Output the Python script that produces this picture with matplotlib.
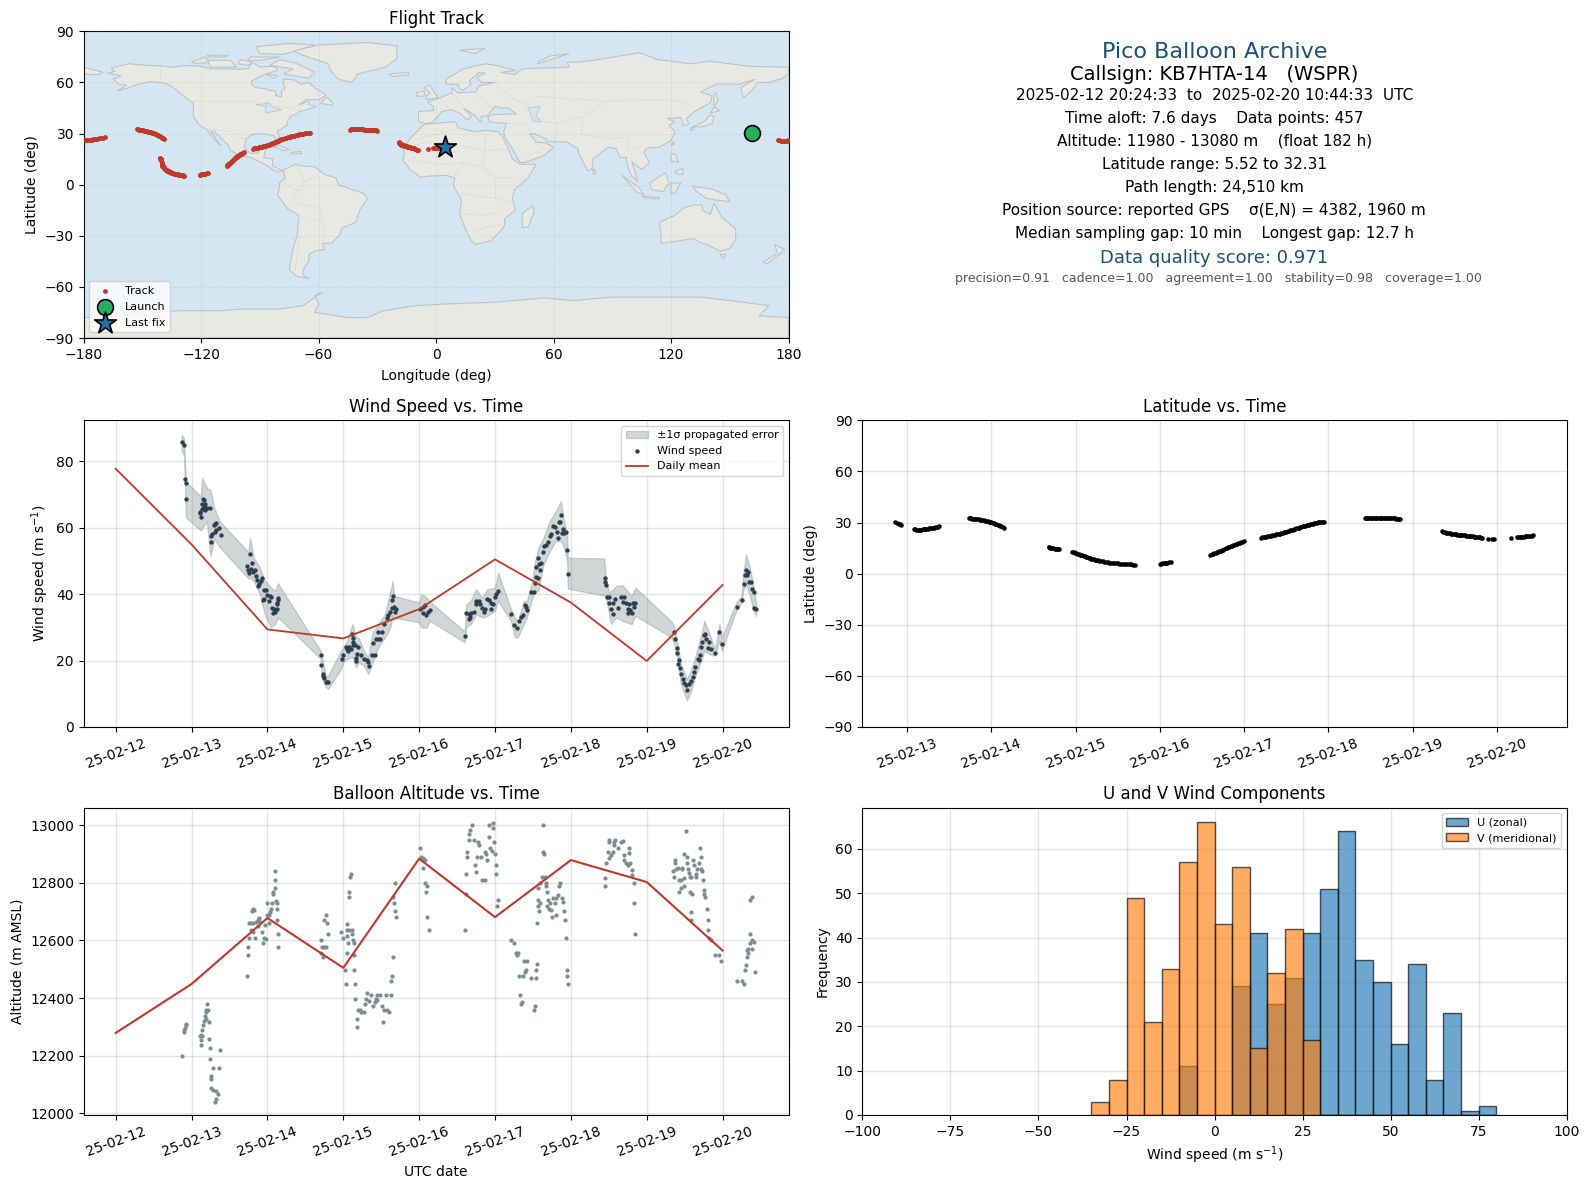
from datetime import datetime

import matplotlib
matplotlib.use("Agg")
import matplotlib.dates as mdates
import matplotlib.pyplot as plt

# --- values ---
# days since 2025-02-12 00:00 UTC
mean_day = [0, 1, 2, 3, 4, 5, 6, 7, 8]
mean_wind = [77.8, 55.0, 29.4, 26.7, 35.5, 50.5, 37.5, 19.9, 42.8]
mean_alt = [12279, 12449, 12678, 12505, 12884, 12681, 12879, 12803, 12565]

wind_day = [
    .868, .895, .908, .925, .921, 1.145, 1.167, 1.136, 1.18, 1.158, 1.202, 1.237, 1.18, 1.136, 1.114, 1.105, 1.118,
    1.311, 1.29, 1.325, 1.355, 1.325, 1.303, 1.382, 1.272, 1.254, 1.25,
    1.772, 1.737, 1.798, 1.75, 1.789, 1.838, 1.759, 1.816, 1.851, 1.868, 1.93, 1.917, 1.895, 1.882, 1.956, 1.982,
    1.991, 2.035, 2.053, 1.956, 1.947, 2.026, 2.145, 2.136, 2.123, 2.057, 2.088, 2.123, 2.1, 2.079, 2.13,
    2.702, 2.711, 2.728, 2.737, 2.75, 2.767, 2.789, 2.803,
    2.978, 3.0, 3.03, 3.053, 3.079, 3.066, 3.096, 3.123, 3.154, 3.132, 3.123, 3.118,
    3.197, 3.175, 3.228, 3.167, 3.167, 3.272, 3.307, 3.333, 3.329,
    3.373, 3.412, 3.386, 3.43, 3.46, 3.482, 3.46, 3.504, 3.535, 3.57, 3.588, 3.614, 3.636, 3.667, 3.693, 3.68,
    3.636, 3.649, 4.017, 4.05, 4.075, 4.05, 4.096, 4.118, 4.14,
    4.61, 4.623, 4.654, 4.684, 4.658, 4.724, 4.675, 4.754, 4.785, 4.798, 4.754, 4.829, 4.864, 4.855, 4.895, 4.917,
    4.952, 4.974, 4.943, 5.0, 5.018, 5.04,
    5.21, 5.25, 5.289, 5.316, 5.346, 5.368, 5.39, 5.412, 5.425, 5.474, 5.509,
    5.535, 5.57, 5.526, 5.544, 5.561, 5.579, 5.61, 5.596, 5.632, 5.64, 5.675, 5.697, 5.719, 5.74, 5.768, 5.794,
    5.812, 5.842, 5.86, 5.873, 5.895, 5.912, 5.886, 5.938, 5.829, 5.948, 5.96,
    6.45, 6.45, 6.46, 6.478, 6.5, 6.509, 6.553, 6.53, 6.553, 6.588, 6.618, 6.662, 6.706, 6.684, 6.728, 6.772,
    6.816, 6.846, 6.829, 6.75, 6.785, 6.75, 6.803,
    7.355, 7.371, 7.395, 7.404, 7.421, 7.417, 7.44, 7.452, 7.474, 7.496, 7.526, 7.518, 7.553, 7.584, 7.605, 7.627,
    7.64, 7.671, 7.702, 7.689, 7.715, 7.732, 7.75, 7.765, 7.785, 7.82, 7.807, 7.846, 7.904, 7.956, 7.987,
    8.184, 8.25, 8.276, 8.29, 8.307, 8.33, 8.316, 8.342, 8.37, 8.39, 8.413, 8.417, 8.434,
]
wind_speed = [
    85.8, 85.0, 74.8, 73.6, 68.8, 68.8, 68.3, 67.3, 67.3, 66.3, 66.0, 66.1, 65.5, 65.6, 64.8, 64.5, 63.2,
    61.2, 60.9, 61.5, 60.0, 59.4, 58.7, 57.9, 58.2, 57.4, 55.8,
    52.2, 48.6, 49.4, 47.4, 47.7, 47.2, 46.5, 46.7, 45.5, 44.4, 44.9, 44.0, 43.2, 42.5, 41.4, 41.4,
    39.7, 39.6, 39.2, 38.7, 38.2, 38.1, 38.9, 38.2, 37.4, 35.9, 35.7, 35.7, 34.7, 34.2, 37.2,
    21.6, 18.8, 16.1, 15.4, 14.8, 13.6, 13.5, 13.6,
    20.6, 21.8, 24.1, 23.6, 24.1, 22.9, 23.6, 24.6, 24.6, 25.6, 26.8, 27.9,
    24.1, 22.1, 21.8, 20.9, 19.9, 20.6, 20.1, 18.3, 19.6,
    21.8, 21.8, 25.4, 26.4, 26.4, 26.4, 28.6, 28.6, 30.9, 32.7, 33.7, 34.7, 36.0, 36.2, 35.4, 34.5,
    38.4, 39.6, 35.7, 36.2, 36.7, 34.2, 33.7, 34.7, 35.2,
    27.4, 34.4, 34.0, 34.2, 32.4, 34.6, 33.2, 38.0, 38.0, 37.2, 37.0, 35.9, 35.7, 34.7, 38.7, 38.2,
    37.4, 37.0, 35.5, 39.2, 40.2, 41.0,
    33.9, 30.7, 29.7, 32.0, 33.0, 33.7, 36.7, 36.2, 35.2, 40.6, 40.7,
    45.2, 44.9, 43.4, 48.2, 51.0, 49.2, 49.4, 47.2, 52.7, 54.4, 54.7, 55.7, 57.4, 58.0, 60.7, 60.2,
    58.7, 61.7, 61.7, 64.0, 59.7, 58.4, 58.4, 58.7, 57.0, 53.4, 46.2,
    44.9, 43.7, 42.7, 39.3, 39.2, 37.4, 37.4, 35.4, 34.0, 38.5, 36.0, 39.3, 39.3, 37.7, 37.4, 37.2,
    37.4, 37.5, 36.2, 35.7, 35.2, 34.4, 34.2,
    28.6, 26.6, 23.9, 22.4, 20.1, 19.1, 17.9, 16.1, 14.6, 13.3, 11.1, 12.6, 13.1, 13.9, 15.1, 16.6,
    18.1, 20.6, 21.6, 20.3, 24.1, 25.6, 27.6, 27.9, 26.6, 25.6, 23.9, 23.4, 22.4, 28.6, 25.1,
    36.2, 38.4, 43.2, 45.7, 47.2, 46.7, 45.7, 43.6, 43.6, 41.7, 40.7, 36.0, 35.7,
]

# propagated error envelope
band_day = [
    .87, .90, .925, 1.12, 1.14, 1.2, 1.25, 1.3, 1.37, 1.75, 1.77, 1.82, 1.9, 1.97, 2.05, 2.1, 2.14,
    2.7, 2.72, 2.77, 2.8, 2.97, 3.0, 3.05, 3.12, 3.17, 3.2, 3.27, 3.33, 3.38, 3.46, 3.55, 3.62, 3.65, 3.67,
    4.0, 4.03, 4.1, 4.14, 4.6, 4.62, 4.68, 4.75, 4.83, 4.9, 5.0, 5.04,
    5.21, 5.26, 5.3, 5.38, 5.42, 5.48, 5.53, 5.57, 5.64, 5.72, 5.8, 5.87, 5.91, 5.95, 5.96,
    6.44, 6.46, 6.5, 6.53, 6.6, 6.68, 6.8, 6.85,
    7.33, 7.36, 7.4, 7.45, 7.53, 7.58, 7.65, 7.72, 7.76, 7.82, 7.9, 7.96, 7.99,
    8.18, 8.25, 8.27, 8.31, 8.36, 8.41, 8.44,
]
band_low = [
    83, 82, 63.2, 59.2, 60, 62, 51.5, 56.7, 54.2, 44.7, 45, 44, 40, 33.5, 30, 31, 33,
    20.6, 14.5, 12, 11.5, 17.5, 19.5, 20.5, 21, 18, 19.5, 18.5, 16, 19, 24, 27, 30, 33.6, 33,
    31.5, 30, 30, 32, 25.5, 30, 31, 34, 33, 33.5, 35, 38,
    32, 27, 27, 31, 33, 38, 41, 41, 49, 53, 56, 56, 54, 50, 41.7,
    39.6, 39, 34.5, 31, 33, 32, 31, 33.5,
    27, 25, 21, 13, 8, 10.5, 16, 20, 23, 22, 21.5, 26, 23,
    35, 37.5, 41, 43, 39.5, 35, 33.5,
]
band_high = [
    88, 87, 74, 69.5, 75, 72, 71.3, 66, 62, 52.7, 57, 51, 48, 44, 42, 41, 43.3,
    23, 21, 15.5, 15.5, 23, 24, 26, 31, 27, 27, 23, 21, 28, 31, 34, 41, 44, 39.5,
    37.5, 40, 39, 37.8, 28.8, 37, 38, 41.5, 39, 41.5, 42, 46.5,
    35.5, 33, 32, 38, 38, 43, 50, 54, 57, 62, 65, 68, 62, 58, 51,
    50.8, 45, 40.5, 41, 42.5, 42.7, 39.5, 42,
    31.7, 30, 26, 19, 14.5, 17, 22, 28, 32, 28.5, 23.5, 31, 27,
    37.5, 39.5, 46, 52, 48, 42, 37.5,
]

alt_day = [
    .868, .90, .912, .925, .905, .93, 1.197, 1.193, 1.21, 1.193, 1.175, 1.193, 1.167, 1.224, 1.149, 1.14, 1.123, 1.114, 1.136,
    1.123, 1.118, 1.224, 1.237, 1.38, 1.237, 1.276, 1.368, 1.254, 1.25, 1.254, 1.289, 1.316, 1.342, 1.325, 1.303,
    1.737, 1.75, 1.75, 1.763, 1.842, 1.78, 1.807, 1.763, 1.79, 1.816, 1.794, 1.816, 1.829, 1.851, 1.877, 1.895, 1.904, 1.882,
    1.925, 1.956, 1.978, 1.947, 1.969, 2.0, 2.0, 2.057, 2.05, 2.035, 2.022, 2.026, 2.13, 2.118, 2.123, 2.07, 2.1, 2.079, 2.096, 2.105,
    2.13, 2.145, 2.145,
    2.711, 2.767, 2.75, 2.789, 2.803, 2.715, 2.746, 2.767, 2.702, 2.728, 2.974, 3.0, 3.044, 3.079, 3.11, 3.048, 3.11, 3.066,
    3.123, 3.136, 3.048, 3.14, 3.05, 3.026, 3.145, 3.04, 3.158, 3.158, 3.079, 3.079, 3.092, 3.105,
    3.175, 3.175, 3.197, 3.22, 3.24, 3.276, 3.289, 3.316, 3.298, 3.333, 3.368, 3.395, 3.417, 3.439, 3.43, 3.45, 3.48, 3.504,
    3.535, 3.57, 3.605, 3.518, 3.56, 3.623, 3.63, 3.645, 3.658, 3.697, 3.684, 3.671, 3.658, 3.684,
    4.013, 4.03, 4.05, 4.075, 4.05, 4.083, 4.105, 4.096, 4.105, 4.13,
    4.605, 4.614, 4.623, 4.636, 4.632, 4.662, 4.675, 4.693, 4.658, 4.724, 4.776, 4.789, 4.74, 4.75, 4.768, 4.82, 4.833, 4.864,
    4.868, 4.886, 4.9, 4.92, 4.973, 4.973, 4.917, 4.987, 4.93, 4.965, 5.0, 5.013, 5.013, 5.04, 5.026,
    5.21, 5.25, 5.28, 5.30, 5.294, 5.386, 5.42, 5.412, 5.395, 5.368, 5.316, 5.474, 5.544, 5.544, 5.553, 5.329, 5.355, 5.342, 5.526, 5.513,
    5.632, 5.632, 5.649, 5.618, 5.658, 5.671, 5.671, 5.588, 5.566, 5.684, 5.57, 5.592, 5.57, 5.579, 5.553, 5.697, 5.689, 5.71,
    5.74, 5.75, 5.802, 5.785, 5.829, 5.81, 5.882, 5.895, 5.86, 5.842, 5.908, 5.92, 5.935, 5.948, 5.948, 5.96, 5.763, 5.728,
    6.45, 6.45, 6.465, 6.487, 6.5, 6.53, 6.553, 6.5, 6.509, 6.566, 6.575, 6.588, 6.618, 6.662, 6.684, 6.706, 6.706, 6.728, 6.75,
    6.763, 6.77, 6.785, 6.803, 6.803, 6.83, 6.83, 6.843,
    7.355, 7.377, 7.37, 7.35, 7.386, 7.41, 7.421, 7.452, 7.43, 7.447, 7.46, 7.47, 7.487, 7.487, 7.513, 7.496, 7.526, 7.526, 7.54,
    7.553, 7.566, 7.588, 7.575, 7.597, 7.61, 7.623, 7.579, 7.584, 7.645, 7.654, 7.667, 7.689, 7.702, 7.719, 7.715, 7.732, 7.74,
    7.76, 7.76, 7.772, 7.789, 7.803, 7.807, 7.825, 7.846, 7.9, 7.95, 7.985,
    8.184, 8.25, 8.276, 8.29, 8.307, 8.316, 8.325, 8.34, 8.34, 8.358, 8.358, 8.393, 8.393, 8.416, 8.43, 8.368, 8.382,
]
alt_m = [
    12200, 12290, 12296, 12305, 12282, 12310, 12381, 12358, 12358, 12350, 12338, 12329, 12319, 12317, 12308, 12290, 12271, 12268, 12270,
    12253, 12238, 12259, 12228, 12221, 12190, 12158, 12158, 12129, 12120, 12088, 12080, 12077, 12068, 12050, 12039,
    12478, 12548, 12579, 12610, 12610, 12638, 12630, 12659, 12659, 12659, 12703, 12708, 12705, 12665, 12671, 12679, 12665, 12650,
    12628, 12607, 12605, 12590, 12653, 12690, 12729, 12729, 12711, 12700, 12688, 12659, 12708, 12737, 12729, 12769, 12781, 12761, 12809, 12840,
    12670, 12621, 12579,
    12600, 12690, 12670, 12659, 12621, 12579, 12579, 12579, 12558, 12541, 12628, 12610, 12638, 12638, 12638, 12614, 12621, 12590,
    12600, 12590, 12558, 12549, 12657, 12499, 12499, 12450, 12450, 12398, 12750, 12770, 12819, 12830,
    12329, 12301, 12358, 12358, 12350, 12350, 12381, 12419, 12398, 12389, 12409, 12373, 12387, 12410, 12396, 12392, 12409, 12373,
    12360, 12360, 12350, 12318, 12409, 12409, 12461, 12478, 12541, 12680, 12701, 12729, 12752, 12798,
    12920, 12890, 12885, 12879, 12850, 12798, 12790, 12770, 12680, 12638,
    12638, 12760, 12830, 12908, 12891, 12969, 12984, 13000, 12948, 12948, 12941, 12932, 12861, 12837, 12889, 12889, 12809, 12809,
    12908, 12899, 12879, 13000, 13009, 12990, 12958, 12941, 12920, 12911, 12899, 12861, 12830, 12739, 12718,
    12600, 12590, 12558, 12558, 12548, 12530, 12530, 12499, 12491, 12478, 12478, 12468, 12468, 12499, 12520, 12409, 12387, 12380, 12371, 12360,
    13000, 12908, 12899, 12819, 12819, 12798, 12789, 12798, 12782, 12770, 12739, 12729, 12718, 12701, 12659, 12739, 12718, 12711,
    12705, 12680, 12690, 12729, 12758, 12746, 12746, 12734, 12798, 12790, 12701, 12670, 12610, 12499, 12478, 12450, 12746, 12729,
    12788, 12816, 12868, 12908, 12885, 12897, 12908, 12948, 12941, 12941, 12932, 12948, 12920, 12943, 12946, 12897, 12879, 12868, 12862,
    12903, 12920, 12868, 12845, 12827, 12798, 12729, 12621,
    12819, 12868, 12878, 12841, 12848, 12852, 12809, 12809, 12770, 12781, 12848, 12850, 12788, 12818, 12979, 12899, 12889, 12868, 12848,
    12836, 12819, 12819, 12769, 12761, 12878, 12862, 12700, 12670, 12819, 12830, 12848, 12868, 12920, 12889, 12848, 12841, 12809,
    12775, 12763, 12750, 12708, 12670, 12638, 12610, 12600, 12548, 12548, 12530,
    12461, 12461, 12450, 12499, 12514, 12541, 12566, 12558, 12572, 12590, 12621, 12569, 12601, 12595, 12489, 12739, 12750,
]

track_day = [
    .86, .88, .90, .92, .93,
    1.08, 1.095, 1.11, 1.125, 1.14, 1.155, 1.17, 1.185, 1.20, 1.215, 1.23, 1.245, 1.26, 1.275, 1.29, 1.305, 1.32, 1.335, 1.35, 1.365, 1.38,
    1.73, 1.745, 1.76, 1.775, 1.79, 1.805, 1.82, 1.835, 1.85, 1.865, 1.88, 1.895, 1.91, 1.925, 1.94, 1.955, 1.97, 1.985, 2.0, 2.015, 2.03, 2.045, 2.06, 2.075, 2.09, 2.105, 2.12, 2.135, 2.15,
    2.68, 2.69, 2.7, 2.71, 2.72, 2.735, 2.75, 2.765, 2.78, 2.79, 2.8,
    2.96, 2.975, 2.99, 3.005, 3.02, 3.035, 3.05, 3.065, 3.08, 3.095, 3.11, 3.125, 3.14, 3.155, 3.17, 3.185, 3.2, 3.215, 3.23, 3.245, 3.26, 3.28, 3.3, 3.32, 3.34, 3.36, 3.38, 3.4, 3.42, 3.44, 3.46, 3.48, 3.5, 3.52, 3.54, 3.56, 3.58, 3.6, 3.62, 3.64, 3.66, 3.68, 3.7,
    4.0, 4.015, 4.03, 4.045, 4.06, 4.075, 4.09, 4.11, 4.13,
    4.6, 4.615, 4.63, 4.645, 4.66, 4.675, 4.69, 4.705, 4.72, 4.735, 4.75, 4.765, 4.78, 4.795, 4.81, 4.825, 4.84, 4.855, 4.87, 4.885, 4.9, 4.915, 4.93, 4.945, 4.96, 4.98, 5.0,
    5.2, 5.215, 5.23, 5.245, 5.26, 5.275, 5.29, 5.305, 5.32, 5.335, 5.35, 5.365, 5.38, 5.395, 5.41, 5.425, 5.44, 5.455, 5.47, 5.485, 5.5, 5.515, 5.53, 5.545, 5.56, 5.575, 5.59, 5.605, 5.62, 5.635, 5.65, 5.665, 5.68, 5.695, 5.71, 5.725, 5.74, 5.755, 5.77, 5.785, 5.8, 5.815, 5.83, 5.845, 5.86, 5.875, 5.89, 5.905, 5.92, 5.935, 5.95,
    6.43, 6.445, 6.46, 6.475, 6.49, 6.505, 6.52, 6.535, 6.55, 6.565, 6.58, 6.595, 6.61, 6.625, 6.64, 6.655, 6.67, 6.685, 6.7, 6.715, 6.73, 6.745, 6.76, 6.775, 6.79, 6.805, 6.82, 6.835, 6.85,
    7.35, 7.365, 7.38, 7.395, 7.41, 7.425, 7.44, 7.455, 7.47, 7.485, 7.5, 7.515, 7.53, 7.545, 7.56, 7.575, 7.59, 7.605, 7.62, 7.635, 7.65, 7.665, 7.68, 7.695, 7.71, 7.725, 7.74, 7.755, 7.77, 7.785, 7.8, 7.81, 7.82, 7.89, 7.94, 7.97,
    8.17, 8.24, 8.255, 8.27, 8.285, 8.3, 8.315, 8.33, 8.345, 8.36, 8.375, 8.39, 8.41, 8.43,
]
track_lon = [
    161.2, 161.6, 162, 162.4, 162.6,
    174.5, 175.2, 176, 176.8, 177.5, 178.2, 179, 179.8, -179.5, -178.8, -178, -177, -176, -175.2, -174.5, -173.8, -173, -172, -171, -170, -169,
    -153, -152.5, -152, -151.5, -151, -150.5, -150, -149.5, -149, -148.5, -148, -147.5, -147, -146.5, -146, -145.5, -145, -144.5, -144, -143.5, -143, -142.5, -142, -141.5, -141, -140.5, -140, -139.5, -139,
    -140.8, -140.8, -140.8, -140.75, -140.7, -140.65, -140.6, -140.6, -140.6, -140.55, -140.5,
    -140.2, -140.2, -140.2, -140.1, -140, -139.9, -139.8, -139.6, -139.5, -139.3, -139.2, -139, -138.8, -138.5, -138.3, -138, -137.8, -137.5, -137.2, -136.9, -136.6, -136.3, -136, -135.6, -135.2, -134.8, -134.4, -134, -133.6, -133.2, -132.8, -132.4, -132, -131.6, -131.2, -130.8, -130.5, -130.2, -130, -129.8, -129.5, -129.2, -129,
    -120.8, -120.4, -120, -119.5, -119, -118.5, -118, -117.2, -116.5,
    -107, -106.7, -106.4, -106.1, -105.8, -105.5, -105.2, -104.9, -104.6, -104.3, -104, -103.7, -103.4, -103.1, -102.8, -102.5, -102.2, -101.9, -101.5, -101.2, -100.8, -100.4, -100, -99.6, -99.2, -98.6, -98,
    -93.6, -93, -92.4, -91.8, -91.2, -90.6, -90, -89.5, -89, -88.5, -88, -87.5, -87, -86.5, -86, -85.5, -85, -84.5, -84, -83.5, -83, -82.5, -82, -81.5, -81, -80.5, -80, -79.5, -79, -78.5, -78, -77.2, -76.5, -75.8, -75, -74.5, -74, -73.2, -72.5, -71.8, -71, -70.5, -70, -69.2, -68.5, -67.8, -67, -66.2, -65.5, -65, -64.5,
    -44, -43.5, -43, -42.5, -42, -41.5, -41, -40.5, -40, -39.5, -39, -38.5, -38, -37.5, -37, -36.5, -36, -35.5, -35, -34.5, -34, -33.5, -33, -32.5, -32, -31.5, -31, -30.5, -30,
    -19, -18.8, -18.6, -18.4, -18.2, -17.9, -17.7, -17.4, -17.2, -16.9, -16.7, -16.4, -16.2, -15.9, -15.7, -15.4, -15.2, -14.9, -14.7, -14.4, -14.2, -13.9, -13.7, -13.4, -13.1, -12.8, -12.5, -12.2, -11.9, -11.6, -11.3, -11, -10.8, -10, -9.7, -9.4,
    -4, -1.5, -1, -.5, 0, .5, 1, 1.5, 2, 2.5, 3, 3.5, 4.2, 4.8,
]
track_lat = [
    30.1, 29.8, 29.4, 28.9, 28.6,
    26.0, 25.95, 25.9, 25.85, 25.8, 25.85, 25.9, 26.0, 26.1, 26.15, 26.2, 26.35, 26.5, 26.65, 26.8, 26.9, 27.0, 27.2, 27.4, 27.6, 27.8,
    32.5, 32.45, 32.4, 32.35, 32.3, 32.2, 32.1, 31.95, 31.8, 31.65, 31.5, 31.35, 31.2, 31.1, 31.0, 30.8, 30.6, 30.4, 30.2, 29.9, 29.6, 29.35, 29.1, 28.8, 28.5, 28.1, 27.7, 27.3, 26.9,
    15.8, 15.55, 15.3, 15.15, 15.0, 14.85, 14.7, 14.6, 14.5, 14.4, 14.3,
    12.7, 12.45, 12.2, 11.95, 11.7, 11.45, 11.2, 10.95, 10.7, 10.45, 10.2, 9.9, 9.6, 9.35, 9.1, 8.85, 8.6, 8.4, 8.2, 8.0, 7.8, 7.6, 7.4, 7.2, 7.0, 6.8, 6.6, 6.45, 6.3, 6.2, 6.1, 6.05, 6.0, 5.95, 5.9, 5.85, 5.8, 5.75, 5.7, 5.6, 5.5, 5.35, 5.2,
    5.8, 5.9, 6.0, 6.1, 6.2, 6.35, 6.5, 6.7, 6.9,
    11.0, 11.3, 11.6, 11.9, 12.2, 12.5, 12.8, 13.15, 13.5, 13.8, 14.1, 14.45, 14.8, 15.1, 15.4, 15.7, 16.0, 16.35, 16.7, 17.0, 17.3, 17.65, 18.0, 18.25, 18.5, 18.85, 19.2,
    21.2, 21.3, 21.4, 21.55, 21.7, 21.85, 22.0, 22.15, 22.3, 22.5, 22.7, 22.85, 23.0, 23.15, 23.3, 23.55, 23.8, 24.0, 24.2, 24.45, 24.7, 24.95, 25.2, 25.4, 25.6, 25.85, 26.1, 26.35, 26.6, 26.8, 27.0, 27.25, 27.5, 27.75, 28.0, 28.2, 28.4, 28.6, 28.8, 29.0, 29.2, 29.4, 29.6, 29.75, 29.9, 30.05, 30.2, 30.3, 30.4, 30.5, 30.6,
    32.4, 32.45, 32.5, 32.5, 32.5, 32.5, 32.5, 32.5, 32.5, 32.5, 32.5, 32.45, 32.5, 32.45, 32.4, 32.4, 32.4, 32.4, 32.4, 32.4, 32.4, 32.4, 32.4, 32.4, 32.4, 32.35, 32.3, 32.1, 31.8,
    25.0, 24.6, 24.3, 24.1, 23.9, 23.75, 23.6, 23.5, 23.4, 23.3, 23.2, 23.05, 22.9, 22.8, 22.7, 22.6, 22.5, 22.45, 22.4, 22.3, 22.2, 22.15, 22.1, 22.0, 21.9, 21.8, 21.7, 21.6, 21.5, 21.4, 21.3, 21.2, 21.1, 20.6, 20.5, 20.4,
    21.0, 21.3, 21.35, 21.4, 21.55, 21.7, 21.8, 21.9, 21.95, 22.0, 22.05, 22.1, 22.25, 22.4,
]
launch_lon, launch_lat = 161.2, 30.1
last_lon, last_lat = 4.8, 22.0

hist_edges = list(range(-35, 85, 5))
u_counts = [0, 0, 0, 0, 0, 11, 0, 0, 29, 41, 25, 31, 41, 51, 64, 35, 30, 16, 34, 8, 23, 1, 2]
v_counts = [3, 8, 49, 21, 33, 57, 66, 43, 56, 15, 32, 42, 17, 0, 0, 0, 0, 0, 0, 0, 0, 0, 0]

info_lines = [
    "Pico Balloon Archive",
    "Callsign: KB7HTA-14   (WSPR)",
    "2025-02-12 20:24:33  to  2025-02-20 10:44:33  UTC",
    "Time aloft: 7.6 days    Data points: 457",
    "Altitude: 11980 - 13080 m    (float 182 h)",
    "Latitude range: 5.52 to 32.31",
    "Path length: 24,510 km",
    "Position source: reported GPS    σ(E,N) = 4382, 1960 m",
    "Median sampling gap: 10 min    Longest gap: 12.7 h",
    "Data quality score: 0.971",
    "precision=0.91   cadence=1.00   agreement=1.00   stability=0.98   coverage=1.00",
]

# rough coastlines, lon/lat
land_polys = [
    [(-168, 65.5), (-164, 66.5), (-166, 68.5), (-157, 71), (-150, 70.3), (-141, 69.7), (-135, 69), (-128, 70), (-120, 69.5), (-115, 68), (-108, 68), (-102, 67.8), (-96, 68), (-94, 72), (-90, 69), (-85, 69.5), (-82, 69), (-81, 67), (-87, 65), (-90, 63.5), (-94, 61), (-94.5, 59), (-92, 57), (-88, 56.5), (-85, 55.3), (-82, 55), (-82, 52.5), (-79, 51.5), (-79, 55), (-77, 57), (-78, 59), (-78, 62), (-72, 61.5), (-69, 59), (-65, 60), (-61, 56), (-56, 52.5), (-60, 50), (-66, 50), (-70, 47), (-65, 49), (-65, 47), (-61, 46), (-66, 44), (-70, 43), (-71, 41.5), (-74, 40.5), (-76, 37), (-76, 35), (-81, 31.5), (-80, 27), (-81, 25), (-83, 29), (-89, 30), (-94, 29.5), (-97, 27), (-98, 22), (-95, 18.5), (-91, 18.5), (-90, 21), (-87, 21), (-88, 16), (-83.5, 15), (-83.5, 11), (-80, 9), (-77.5, 8.5), (-80, 7.5), (-83, 8.5), (-86, 11), (-91, 14), (-95, 16), (-100, 17), (-105, 20), (-106, 23), (-110, 27.5), (-113, 31), (-115, 31.5), (-112, 26), (-110, 23), (-112, 25), (-115, 29), (-117, 32.5), (-120.5, 34.5), (-124, 40), (-124, 48), (-128, 51), (-133, 56), (-138, 59.5), (-146, 60.5), (-152, 59), (-158, 56.5), (-163, 55), (-158, 58.5), (-162, 59), (-165, 62), (-161, 64)],
    [(-73, 78.5), (-60, 82), (-35, 83.5), (-20, 81.5), (-20, 74), (-26, 69), (-40, 65), (-43, 60), (-50, 62), (-54, 67), (-55, 71), (-68, 76)],
    [(-80, 73.5), (-72, 71.5), (-62, 66), (-65, 62.5), (-73, 64), (-78, 65), (-73, 68), (-85, 70)],
    [(-117, 73), (-105, 73), (-102, 69), (-115, 69)],
    [(-90, 77), (-78, 76.5), (-62, 82), (-75, 83), (-92, 81)],
    [(-125, 72), (-118, 75), (-116, 72), (-122, 71)],
    [(-95, 75), (-80, 75), (-90, 73), (-96, 73)],
    [(-117, 76), (-106, 76), (-108, 75), (-116, 75)],
    [(-100, 73.5), (-94, 72), (-96, 70), (-101, 71)],
    [(-87, 65), (-81, 64), (-83, 62.5)],
    [(-59, 47.7), (-53, 46.7), (-53, 48.5), (-56, 51.5)],
    [(-85, 22), (-80, 23), (-75, 20.5), (-78, 20), (-82, 22)],
    [(-74, 19), (-69, 19.5), (-68.5, 18.3), (-74, 18)],
    [(-78, 8.5), (-72, 12), (-68, 11), (-62, 10.5), (-57, 6), (-51, 4), (-50, 0), (-44, -2.5), (-37, -5), (-35, -8), (-39, -15), (-41, -22), (-48, -25.5), (-49, -29), (-53, -34), (-58, -34.5), (-57, -38), (-62, -39), (-65, -41), (-65, -45), (-68, -50), (-68, -53), (-65, -55), (-71, -54), (-75, -50), (-74, -43), (-73, -37), (-71, -30), (-70, -18), (-76, -14), (-81, -6), (-80, -2), (-80, 1), (-77, 4)],
    [(-6, 35.5), (10, 37), (11, 33.5), (20, 31), (25, 32), (32, 31), (34, 28), (37, 21), (39, 15), (43, 12), (51, 12), (47, 4), (40, -3), (39, -8), (40.5, -15), (35, -20), (35, -24), (33, -27), (28, -33), (20, -35), (18, -33), (15, -26), (12, -17), (13, -9), (9, -1), (9.5, 4), (5, 5.5), (-4, 5), (-8, 4.5), (-13, 8.5), (-17, 14.5), (-16, 19), (-17, 21), (-13, 27.5), (-10, 31)],
    [(49.5, -12), (50, -16), (47, -25), (44, -25), (44, -17)],
    [(-9, 37), (-9, 43), (-1, 43.5), (-1.5, 46), (-4.5, 48.5), (2, 51), (8, 54), (8, 57), (11, 54), (20, 54.5), (22, 58), (30, 60), (23, 60), (21, 63), (25, 65.5), (22, 65.8), (17, 61), (18, 59), (14, 55.5), (12, 56), (11, 59), (5, 59), (5, 62), (14, 68), (25, 71), (31, 70), (41, 67), (33, 66), (40, 64.5), (44, 68), (55, 68.5), (68, 69), (67, 72), (73, 72), (80, 73), (104, 77.5), (113, 73.5), (130, 71), (140, 72.5), (160, 69.5), (180, 69), (180, 65), (177, 62.5), (170, 60), (164, 60), (162, 56), (157, 51), (155.5, 57), (163, 62), (155, 59), (143, 59), (135, 54.5), (141, 52), (140, 48), (132, 43), (128, 39), (129, 35.5), (126, 34.5), (126, 37), (125, 39.5), (121, 39), (118, 39), (122, 37), (119, 35), (122, 31), (120, 26), (114, 22), (108, 21.5), (106, 19), (109, 13), (105, 9), (100, 13.5), (103, 2), (100, 5), (98, 10), (97, 16), (94, 16), (92, 21), (88, 22), (80, 15), (80, 10), (77.5, 8), (73, 18), (72.5, 21), (67, 25), (57, 25.5), (56, 27), (50, 30), (48, 30), (51, 25), (56, 24.5), (60, 22), (55, 17), (45, 13), (43, 13), (39, 21), (35, 28), (34.5, 31), (36, 36), (30, 36.5), (27, 37), (26.5, 40), (29, 41), (36, 41.5), (41, 41.5), (37, 45), (33, 45), (30, 46), (28, 43), (26, 40.5), (23, 40), (23, 36.5), (19.5, 41), (14, 45), (18, 40), (16, 38), (12, 42), (8, 44), (3, 43), (0, 39), (-2, 36.5), (-5.5, 36)],
    [(-180, 65), (-173, 64.5), (-170, 66), (-180, 69)],
    [(-5, 50), (1, 51), (-2, 56), (-3, 58.5), (-6, 57), (-3, 54), (-5, 52)],
    [(-10, 52), (-6, 52), (-6, 55), (-10, 54)],
    [(-24, 65), (-14, 66), (-14, 64.5), (-22, 63.5)],
    [(12, 79), (25, 80), (20, 77)],
    [(52, 71), (68, 77), (58, 75.5), (52, 72)],
    [(131, 34), (136, 34), (141, 36), (142, 40), (140, 41), (137, 37)],
    [(140, 42), (145, 43.5), (142, 45.5)],
    [(130, 31.5), (132, 33.5), (130, 33.5)],
    [(142, 46), (144, 49), (143, 54), (142, 53)],
    [(120, 23), (121, 25), (122, 24)],
    [(80, 9.5), (82, 7), (80.5, 6)],
    [(95, 5.5), (104, -2), (106, -6), (102, -4)],
    [(109, 1), (117, 7), (119, 1), (116, -4), (110, -3)],
    [(105, -6.5), (114, -7.5), (114, -8.5), (106, -7.5)],
    [(120, 1), (125, 1), (122, -5), (120, -5)],
    [(131, -1), (141, -2.5), (148, -6), (150, -10), (143, -9), (138, -8), (133, -4)],
    [(120, 18), (122, 18), (124, 13), (120, 14)],
    [(122, 8), (126, 9.5), (126, 6), (123, 6.5)],
    [(114, -22), (122, -18), (126, -14), (131, -12), (136, -12), (136, -15), (140, -17.5), (142, -11), (146, -19), (153, -26), (153, -32), (150, -37.5), (145, -39), (138, -35), (135, -34), (131, -31.5), (124, -33), (115, -34.5), (115, -30)],
    [(145, -41), (148, -41), (147, -43.5)],
    [(173, -35), (178, -38), (175, -41.5), (174, -39)],
    [(173, -41), (174, -42), (169, -46.5), (167, -45.5)],
    [(-180, -78), (-158, -77), (-145, -75), (-130, -74), (-110, -74), (-100, -73), (-80, -73), (-68, -71), (-58, -63), (-62, -65), (-60, -70), (-62, -75), (-45, -78), (-35, -78), (-27, -74), (-10, -71), (5, -70), (30, -69), (40, -68), (55, -66.5), (70, -68), (90, -66), (110, -66), (135, -66), (150, -68), (170, -71), (165, -77), (180, -78), (180, -90), (-180, -90)],
]
lake_polys = [
    [(47, 45), (53, 46), (51, 40), (54, 37), (50, 37)],
    [(-92, 47), (-85, 48), (-84, 46), (-79, 44), (-83, 43), (-87, 42), (-87, 46)],
]
border_lines = [
    [(-141, 69.7), (-141, 60)], [(-124, 49), (-95, 49), (-83, 46), (-75, 45), (-67, 47)],
    [(-117, 32.5), (-106, 31.5), (-97, 26)], [(-70, -18), (-65, -22), (-58, -20), (-60, -14), (-70, -11), (-74, -7), (-70, -4), (-67, 2), (-60, 5)],
    [(-70, -18), (-70, -33), (-72, -50)], [(-58, -20), (-58, -34)], [(-78, 1), (-70, -4)], [(-72, 12), (-67, 2)],
    [(-9, 27), (12, 33)], [(25, 32), (25, 20), (24, 10), (30, 4), (40, 4)], [(-17, 21), (-5, 25), (12, 23), (25, 20), (37, 21)],
    [(-12, 14), (3, 12), (14, 13), (24, 10)], [(9, 4), (14, 13)], [(13, -5), (30, -8), (40, -11)], [(12, -17), (25, -18), (33, -16)], [(20, -28), (25, -25), (33, -24)],
    [(30, 4), (30, -8)], [(2, 51), (7, 44)], [(8, 54), (14, 46)], [(20, 54.5), (28, 45)], [(30, 60), (40, 50), (50, 45)], [(50, 52), (87, 49), (120, 50), (132, 46)],
    [(87, 49), (75, 40), (62, 36), (61, 25)], [(48, 38), (62, 36)], [(75, 37), (74, 30), (88, 27), (98, 28), (98, 20)], [(36, 36), (46, 36), (48, 30)],
    [(105, 22), (98, 20)], [(46, 17), (52, 19), (55, 22)],
]


def axes_px(fig, left, top, right, bottom):
    # panel box in output pixels
    w, h = fig.get_size_inches() * fig.dpi
    return fig.add_axes([left / w, 1 - bottom / h, (right - left) / w, (bottom - top) / h])


def to_date(days):
    base = mdates.date2num(datetime(2025, 2, 12))
    return [base + d for d in days]


def style_time_axis(ax, xmin, xmax):
    ax.set_xlim(*to_date([xmin, xmax]))
    ax.xaxis.set_major_locator(mdates.DayLocator())
    ax.xaxis.set_major_formatter(mdates.DateFormatter("%y-%m-%d"))
    ax.tick_params(axis="x", labelrotation=20)
    ax.grid(True, color="#b0b0b0", alpha=0.35, linewidth=1)
    ax.set_axisbelow(True)


RED = "#c0392b"
NAVY = "#2c3e50"
GRAY = "#7f8c8d"
BLUE_TXT = "#1a5276"

fig = plt.figure(figsize=(15.89, 11.89), dpi=100)

# flight track
ax = axes_px(fig, 83.7, 31.4, 788.5, 338)
ax.set_facecolor("#d4e6f1")
for poly in land_polys:
    ax.fill(*zip(*poly), facecolor="#e8e8e4", edgecolor="#bfc3c5", linewidth=0.8, zorder=1)
for poly in lake_polys:
    ax.fill(*zip(*poly), facecolor="#d4e6f1", edgecolor="#bfc3c5", linewidth=0.6, zorder=1.1)
for line in border_lines:
    ax.plot(*zip(*line), color="#dadad6", linewidth=0.5, zorder=1.2)
ax.scatter(track_lon, track_lat, s=6, color=RED, zorder=3, label="Track")
ax.scatter([launch_lon], [launch_lat], s=130, color="#27ae60", edgecolor="black", linewidth=1.2, zorder=4, label="Launch")
ax.scatter([last_lon], [last_lat], s=270, marker="*", color="#2471a3", edgecolor="black", linewidth=1.2, zorder=5, label="Last fix")
ax.set_xlim(-180, 180)
ax.set_ylim(-90, 90)
ax.set_xticks(range(-180, 181, 60))
ax.set_yticks(range(-90, 91, 30))
ax.grid(True, color="#9aa0a3", alpha=0.4, linewidth=0.5, linestyle=":", zorder=2)
ax.set_axisbelow(False)
ax.set_title("Flight Track", pad=5)
ax.set_xlabel("Longitude (deg)", labelpad=5)
ax.set_ylabel("Latitude (deg)")
ax.legend(loc="lower left", fontsize=8, labelspacing=0.55)

# summary text
ax = axes_px(fig, 862.4, 31.4, 1566.7, 338)
ax.axis("off")
info_y = [0.934, 0.861, 0.792, 0.715, 0.643, 0.567, 0.490, 0.417, 0.341, 0.262, 0.193]
info_x = [0.5, 0.5, 0.5, 0.5, 0.5, 0.5, 0.5, 0.499, 0.5, 0.5, 0.5057]
info_size = [16, 14, 11, 11, 11, 11, 11, 11, 11, 13, 9]
info_color = [BLUE_TXT, "black", "black", "black", "black", "black", "black", "black", "black", BLUE_TXT, "#555555"]
for txt, x, y, size, col in zip(info_lines, info_x, info_y, info_size, info_color):
    ax.text(x, y, txt, transform=ax.transAxes, ha="center", va="center", fontsize=size, color=col)

# wind speed
ax = axes_px(fig, 83.7, 420.3, 788.5, 727)
ax.fill_between(to_date(band_day), band_low, band_high, color=GRAY, alpha=0.35, label="±1σ propagated error")
ax.scatter(to_date(wind_day), wind_speed, s=4.5, color=NAVY, zorder=3, label="Wind speed")
ax.plot(to_date(mean_day), mean_wind, color=RED, linewidth=1.3, zorder=4, label="Daily mean")
style_time_axis(ax, -0.422, 8.869)
ax.set_ylim(0, 92.4)
ax.set_title("Wind Speed vs. Time")
ax.set_ylabel("Wind speed (m s$^{-1}$)")
ax.legend(loc="upper right", fontsize=8)

# latitude
ax = axes_px(fig, 862.4, 420.3, 1566.7, 727)
ax.scatter(to_date(track_day), track_lat, s=5, color="black", zorder=3)
style_time_axis(ax, 0.47, 8.827)
ax.set_ylim(-90, 90)
ax.set_yticks(range(-90, 91, 30))
ax.set_title("Latitude vs. Time")
ax.set_ylabel("Latitude (deg)")

# altitude
ax = axes_px(fig, 83.7, 807.7, 788.5, 1115)
ax.scatter(to_date(alt_day), alt_m, s=4, color=GRAY, zorder=3)
ax.plot(to_date(mean_day), mean_alt, color=RED, linewidth=1.5, zorder=4)
style_time_axis(ax, -0.422, 8.869)
ax.set_ylim(11994, 13061)
ax.set_title("Balloon Altitude vs. Time")
ax.set_xlabel("UTC date")
ax.set_ylabel("Altitude (m AMSL)")

# u / v histogram
ax = axes_px(fig, 862.4, 807.7, 1566.7, 1115)
ax.bar(hist_edges[:-1], u_counts, width=5, align="edge", color="#1f77b4", alpha=0.65, edgecolor="black", linewidth=1, label="U (zonal)", zorder=2)
ax.bar(hist_edges[:-1], v_counts, width=5, align="edge", color="#ff7f0e", alpha=0.65, edgecolor="black", linewidth=1, label="V (meridional)", zorder=3)
ax.set_xlim(-100, 100)
ax.set_ylim(0, 69.3)
ax.grid(True, color="#b0b0b0", alpha=0.35, linewidth=1)
ax.set_axisbelow(True)
ax.set_title("U and V Wind Components")
ax.set_xlabel("Wind speed (m s$^{-1}$)")
ax.set_ylabel("Frequency")
ax.legend(loc="upper right", fontsize=8)

fig.savefig("out.png", dpi=100)
